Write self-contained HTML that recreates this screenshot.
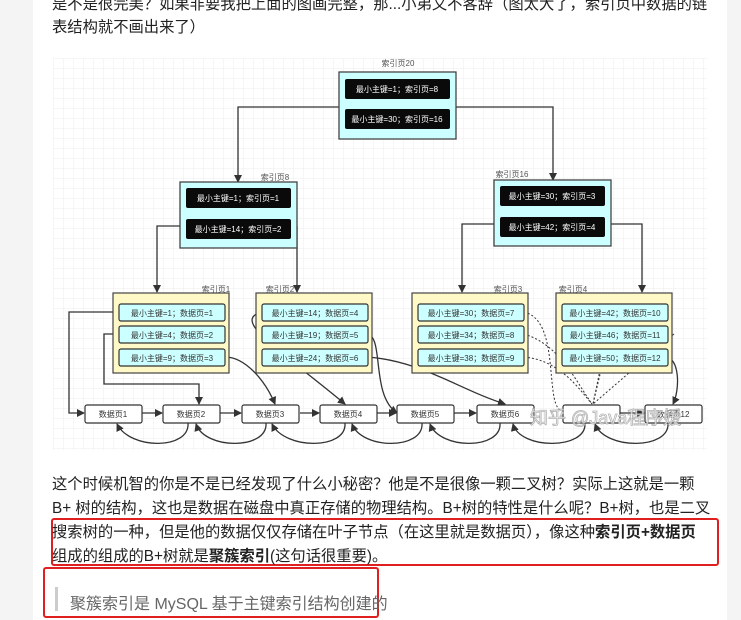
<!DOCTYPE html>
<html><head><meta charset="utf-8"><style>
body{margin:0;width:741px;height:620px;background:#f4f4f4;overflow:hidden;font-family:"Liberation Sans","Noto Sans CJK SC",sans-serif;}
.page{position:absolute;left:33px;top:0;width:694px;height:620px;background:#fff;}
.t{position:absolute;left:52px;font-size:15.3px;color:#222;white-space:nowrap;}
b{font-weight:bold;}
</style></head><body>
<div class="page"></div>
<div class="t" style="top:-8px">是不是很完美？如果非要我把上面的图画完整，那...小弟又不客辞（图太大了，索引页中数据的链</div>
<div class="t" style="top:15px">表结构就不画出来了）</div>
<svg style="position:absolute;left:0;top:0" width="741" height="620" font-family="Liberation Sans,Noto Sans CJK SC,sans-serif">
<defs>
<pattern id="g" width="10" height="10" patternUnits="userSpaceOnUse" x="53" y="58"><path d="M10 0H0V10" fill="none" stroke="#ececec" stroke-width="1"/></pattern>
<marker id="a" markerWidth="8" markerHeight="8" refX="7" refY="4" orient="auto" markerUnits="userSpaceOnUse"><path d="M0 0L8 4L0 8z" fill="#333"/></marker>
</defs>
<rect x="53" y="58" width="654" height="392" fill="url(#g)"/>
<g stroke="#333" stroke-width="1.3" fill="none" marker-end="url(#a)">
<path d="M339 107H238V182"/><path d="M456 107H553V180"/>
<path d="M180 226H157V292"/><path d="M297 226H297V292"/>
<path d="M494 224H462V292"/><path d="M611 224H642V292"/>
<path d="M119 312H69V413H84"/><path d="M119 334H104V384H199V404"/>
<path d="M225 357C245 357 265 380 275 404"/>
<path d="M262 312C230 320 280 350 345 404"/>
<path d="M366 334C385 334 370 395 397 413"/>
<path d="M366 357C420 360 460 390 505 404"/>
<path d="M665 357C680 357 680 390 673 404"/>
<path d="M142 413H162"/><path d="M220 413H241"/><path d="M300 413H319"/><path d="M377 413H396"/><path d="M454 413H476"/><path d="M620 413H644"/>
<path d="M188 423C190 450 130 450 117 424"/><path d="M266 423C268 450 205 450 196 424"/><path d="M345 423C347 450 285 450 272 424"/><path d="M422 423C424 450 362 450 352 424"/><path d="M500 423C502 450 440 450 430 424"/><path d="M585 423C587 450 520 450 513 424"/><path d="M668 423C670 450 605 450 595 424"/>
</g>
<g stroke="#333" stroke-width="1" fill="none" stroke-dasharray="2,2">
<path d="M524 312C560 320 545 400 560 410"/><path d="M524 334C560 345 575 380 592 404"/><path d="M524 357C560 360 580 390 592 404"/>
<path d="M613 320L593 404"/><path d="M674 334L593 404"/><path d="M600 370L593 404"/>
</g>
<g font-size="8" fill="#555" text-anchor="middle">
<text x="398" y="66">索引页20</text><text x="275" y="180">索引页8</text><text x="512" y="177">索引页16</text>
<text x="216" y="292">索引页1</text><text x="280" y="292">索引页2</text><text x="508" y="292">索引页3</text><text x="573" y="292">索引页4</text>
</g>
<g stroke="#444" stroke-width="1.3" fill="#ccffff">
<rect x="339" y="72" width="117" height="67"/><rect x="180" y="182" width="117" height="66"/><rect x="494" y="180" width="117" height="66"/>
</g>
<g fill="#0a0a0a">
<rect x="345" y="79" width="105" height="20" rx="2"/><rect x="345" y="109" width="105" height="20" rx="2"/>
<rect x="186" y="188" width="105" height="20" rx="2"/><rect x="186" y="219" width="105" height="20" rx="2"/>
<rect x="500" y="186" width="105" height="20" rx="2"/><rect x="500" y="217" width="105" height="20" rx="2"/>
</g>
<g font-size="8" fill="#fff" text-anchor="middle">
<text x="397" y="92">最小主键=1；索引页=8</text><text x="397" y="122">最小主键=30；索引页=16</text>
<text x="238" y="201">最小主键=1；索引页=1</text><text x="238" y="232">最小主键=14；索引页=2</text>
<text x="552" y="199">最小主键=30；索引页=3</text><text x="552" y="230">最小主键=42；索引页=4</text>
</g>
<g stroke="#444" stroke-width="1.2" fill="#fff9c8">
<rect x="113" y="293" width="116" height="80"/><rect x="256" y="293" width="116" height="80"/><rect x="412" y="293" width="116" height="80"/><rect x="556" y="293" width="116" height="80"/>
</g>
<g stroke="#333" stroke-width="1.2" fill="#ccffff">
<rect x="119" y="304" width="106" height="17" rx="2"/><rect x="119" y="326" width="106" height="17" rx="2"/><rect x="119" y="349" width="106" height="17" rx="2"/>
<rect x="262" y="304" width="106" height="17" rx="2"/><rect x="262" y="326" width="106" height="17" rx="2"/><rect x="262" y="349" width="106" height="17" rx="2"/>
<rect x="418" y="304" width="106" height="17" rx="2"/><rect x="418" y="326" width="106" height="17" rx="2"/><rect x="418" y="349" width="106" height="17" rx="2"/>
<rect x="562" y="304" width="106" height="17" rx="2"/><rect x="562" y="326" width="106" height="17" rx="2"/><rect x="562" y="349" width="106" height="17" rx="2"/>
</g>
<g font-size="8" fill="#333" text-anchor="middle">
<text x="172" y="316">最小主键=1；数据页=1</text><text x="172" y="338">最小主键=4；数据页=2</text><text x="172" y="361">最小主键=9；数据页=3</text>
<text x="315" y="316">最小主键=14；数据页=4</text><text x="315" y="338">最小主键=19；数据页=5</text><text x="315" y="361">最小主键=24；数据页=6</text>
<text x="471" y="316">最小主键=30；数据页=7</text><text x="471" y="338">最小主键=34；数据页=8</text><text x="471" y="361">最小主键=38；数据页=9</text>
<text x="615" y="316">最小主键=42；数据页=10</text><text x="615" y="338">最小主键=46；数据页=11</text><text x="615" y="361">最小主键=50；数据页=12</text>
</g>
<g stroke="#333" stroke-width="1.2" fill="#fff">
<rect x="85" y="405" width="57" height="18" rx="2"/><rect x="163" y="405" width="57" height="18" rx="2"/><rect x="242" y="405" width="57" height="18" rx="2"/><rect x="320" y="405" width="57" height="18" rx="2"/><rect x="397" y="405" width="57" height="18" rx="2"/><rect x="477" y="405" width="57" height="18" rx="2"/><rect x="563" y="405" width="57" height="18" rx="2"/><rect x="645" y="405" width="57" height="18" rx="2"/>
</g>
<g font-size="8" fill="#333" text-anchor="middle">
<text x="113" y="417">数据页1</text><text x="191" y="417">数据页2</text><text x="270" y="417">数据页3</text><text x="348" y="417">数据页4</text><text x="425" y="417">数据页5</text><text x="505" y="417">数据页6</text><text x="673" y="417">数据页12</text>
</g>
<text x="530" y="424" font-size="18" fill="#fff" stroke="#aaa" stroke-width="0.8" opacity="0.9">知乎 @Java程序媛</text>
<rect x="52" y="519" width="666" height="46" fill="none" stroke="#e02020" stroke-width="2" rx="2"/>
<rect x="44" y="568" width="334" height="49" fill="none" stroke="#e02020" stroke-width="2" rx="2"/>
<rect x="55" y="587" width="3" height="24" fill="#ccc"/>
</svg>
<div class="t" style="top:472px">这个时候机智的你是不是已经发现了什么小秘密？他是不是很像一颗二叉树？实际上这就是一颗</div>
<div class="t" style="top:496px">B+ 树的结构，这也是数据在磁盘中真正存储的物理结构。B+树的特性是什么呢？B+树，也是二叉</div>
<div class="t" style="top:520px">搜索树的一种，但是他的数据仅仅存储在叶子节点（在这里就是数据页），像这种<b>索引页+数据页</b></div>
<div class="t" style="top:544px">组成的组成的B+树就是<b>聚簇索引</b>(这句话很重要)。</div>
<div class="t" style="top:590px;left:70px;color:#666;font-size:16px;">聚簇索引是 MySQL 基于主键索引结构创建的</div>
</body></html>
